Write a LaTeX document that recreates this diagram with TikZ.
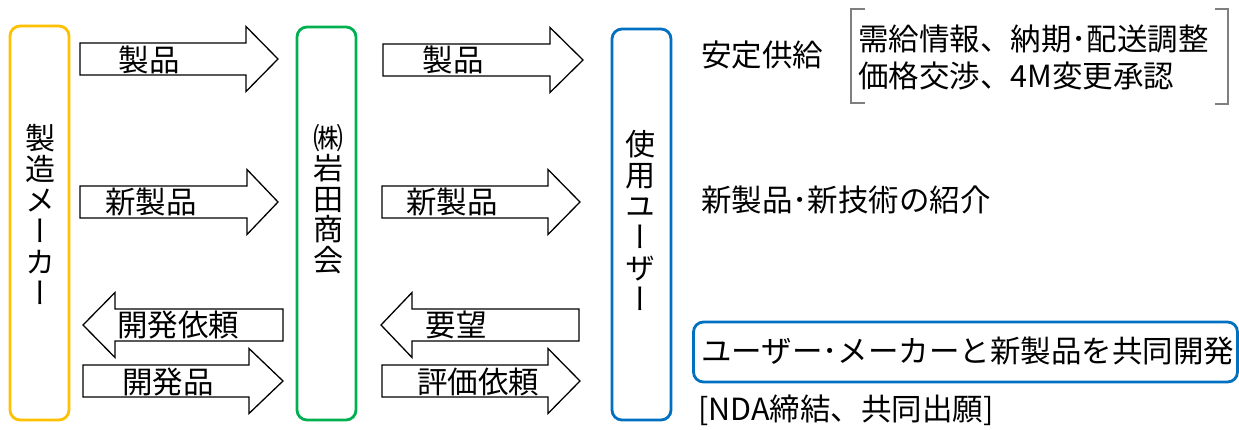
\documentclass[tikz,border=0pt]{standalone}
\usepackage{fontspec}
\setmainfont{Noto Sans CJK JP}
\newfontfamily\vjp[RawFeature=+vert]{Noto Sans CJK JP}
\definecolor{cOrange}{HTML}{FFC000}
\definecolor{cGreen}{HTML}{00B050}
\definecolor{cBlue}{HTML}{0070C0}
\definecolor{cBrk}{HTML}{7F7F7F}
\newcommand\blkarrow[4]{%
  \draw[blk] (#1,#4-16) -- (#2,#4-16) -- (#2,#4-32.5) -- (#3,#4) -- (#2,#4+32.5) -- (#2,#4+16) -- (#1,#4+16) -- cycle;}
\begin{document}
\begin{tikzpicture}[x=1pt,y=-1pt,
  tallbox/.style={draw, line width=2.8pt, rounded corners=10pt, minimum width=59pt, inner sep=0pt},
  vtext/.style={font=\vjp\fontsize{30}{31}\selectfont, align=center, inner sep=0pt},
  blk/.style={draw=black, fill=white, line width=1.3pt, line join=miter},
  lbl/.style={font=\fontsize{30.5}{36}\selectfont, inner sep=0pt},
  rtxt/.style={font=\fontsize{30.5}{37}\selectfont, inner sep=0pt, anchor=west, align=left},
  brk/.style={draw=cBrk, line width=1.2pt}
]
\useasboundingbox (0,0) rectangle (1239,430);

% tall boxes
\node[tallbox, draw=cOrange, minimum height=394pt] (maker) at (39.5,223) {};
\node[tallbox, draw=cGreen, minimum height=393pt] (iwata) at (326.5,223.5) {};
\node[tallbox, draw=cBlue, minimum height=391pt] (user) at (641.5,224.5) {};

\node[vtext] (makert) at (40,214) {製\\造\\メ\\ー\\カ\\ー};
\node[vtext, font=\vjp\fontsize{30}{30.4}\selectfont] (iwatat) at (328,199) {㈱\\岩\\田\\商\\会};
\node[vtext] (usert) at (640,220) {使\\用\\ユ\\ー\\ザ\\ー};

% block arrows left
\blkarrow{80}{246}{278}{59}
\blkarrow{80}{247}{278}{202}
\blkarrow{283}{115}{83}{325}
\blkarrow{83}{249}{283}{381}
% block arrows middle
\blkarrow{383}{550}{583}{60}
\blkarrow{382}{548}{580}{202}
\blkarrow{579}{412}{381}{325}
\blkarrow{382}{548}{580}{381}

\node[lbl] (l1) at (149,60) {製品};
\node[lbl] (l2) at (151,202) {新製品};
\node[lbl] (l3) at (178,325) {開発依頼};
\node[lbl] (l4) at (168,382) {開発品};
\node[lbl] (m1) at (453,60) {製品};
\node[lbl] (m2) at (452,202) {新製品};
\node[lbl] (m3) at (456,325) {要望};
\node[lbl] (m4) at (478,382) {評価依頼};

% right side texts
\node[rtxt] (antei) at (701,55) {安定供給};
\node[rtxt] (jukyu) at (858,57.5) {需給情報、納期･配送調整\\価格交渉、4M変更承認};
\draw[brk] (865,9) -- (851,9) -- (851,103) -- (865,103);
\draw[brk] (1215,9) -- (1228,9) -- (1228,104) -- (1215,104);

\node[rtxt] (shokai) at (701,200) {新製品･新技術の紹介};

\node[draw=cBlue, line width=2.8pt, rounded corners=10pt, minimum width=544pt, minimum height=60pt, inner sep=0pt] (kyodo) at (965.5,352) {};
\node[rtxt] (kyodot) at (701,351) {ユーザー･メーカーと新製品を共同開発};
\node[rtxt] (nda) at (698,410) {[NDA締結、共同出願]};
\end{tikzpicture}
\end{document}
